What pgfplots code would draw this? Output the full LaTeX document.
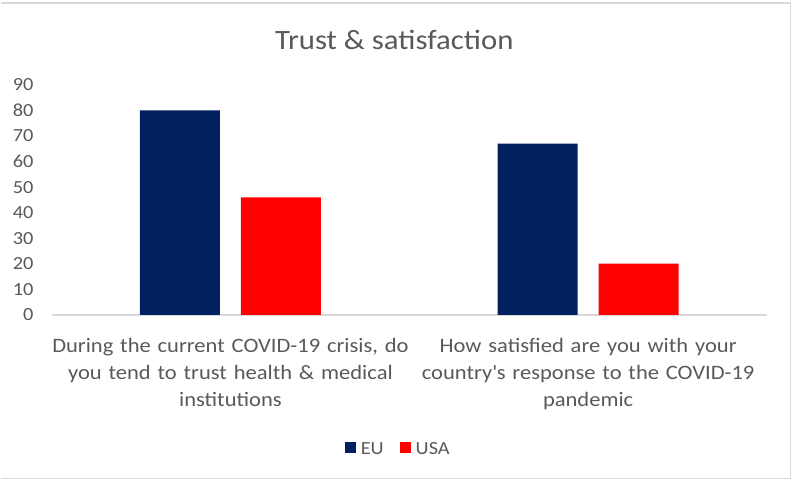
\documentclass[border=0pt]{standalone}
\usepackage{pgfplots}
\pgfplotsset{compat=1.18}
\usepackage{fontspec}
\setmainfont{Carlito}[FakeStretch=1.1]
\definecolor{txt}{HTML}{595959}
\definecolor{eu}{HTML}{002060}
\definecolor{usa}{HTML}{FF0000}
\definecolor{axl}{HTML}{D9D9D9}
\definecolor{frm}{HTML}{D9D9D9}
\begin{document}
\begin{tikzpicture}
\path (0,0) rectangle (793pt,483pt);
\draw[frm, line width=1.2pt] (0pt,480pt) -- (790.5pt,480pt) -- (790.5pt,4pt) -- (0pt,4pt);
\begin{axis}[
  at={(51pt,168pt)}, anchor=south west,
  scale only axis, width=716pt, height=230pt,
  ybar=21pt, bar width=80pt,
  xmin=-0.5, xmax=1.5, ymin=0, ymax=90,
  xtick={0,1},
  xticklabels={{During the current COVID-19 crisis, do\\you tend to trust health \& medical\\institutions},
               {How satisfied are you with your\\country\textquotesingle s response to the COVID-19\\pandemic}},
  ytick={0,10,...,90},
  axis x line=bottom, axis y line=left,
  x axis line style={draw=axl, line width=1.5pt, -},
  y axis line style={draw=none},
  major tick length=0pt,
  tick style={draw=none},
  xticklabel style={font=\fontsize{20.5}{27}\selectfont, text=txt, text width=358pt, align=center, anchor=north, inner sep=0pt, yshift=-23pt},
  yticklabel style={font=\fontsize{18.5}{22}\selectfont, text=txt, anchor=east, inner sep=0pt, xshift=-18pt},
  /pgf/number format/assume math mode=true,
  title={Trust \& satisfaction},
  title style={font=\fontsize{28}{32}\selectfont, text=txt, at={(0.479,1.126)}, anchor=base, inner sep=0pt, yshift=0pt},
  legend columns=2,
  legend style={draw=none, at={(0.4846,-0.587)}, anchor=center, font=\fontsize{18.5}{22}\selectfont, text=txt,
    /tikz/every even column/.append style={column sep=14pt}, inner sep=0pt},
  legend image code/.code={\fill[#1] (0pt,-3.5pt) rectangle (11pt,7.5pt); \path (14pt,0pt);},
]
\addplot[fill=eu, draw=none] coordinates {(0,80) (1,67)};
\addplot[fill=usa, draw=none] coordinates {(0,46) (1,20)};
\legend{EU, USA}
\end{axis}
\end{tikzpicture}
\end{document}
